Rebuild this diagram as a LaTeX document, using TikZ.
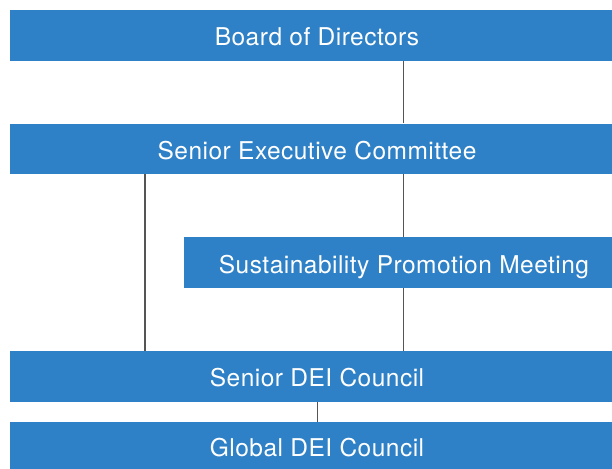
\documentclass[tikz,border=0pt]{standalone}
\usepackage{fontspec}
\setmainfont{TeX Gyre Heros}[LetterSpace=2]
\definecolor{boxblue}{HTML}{2E81C6}
\definecolor{linegray}{HTML}{555555}
\begin{document}
\begin{tikzpicture}[x=1pt,y=1pt,
  orgbox/.style={rectangle, fill=boxblue, draw=none, text=white, inner sep=0pt,
    font=\fontsize{24.5}{28}\selectfont, text height=21pt, text depth=0pt,
    minimum height=51pt},
  link/.style={draw=linegray, line width=1.8pt}]
\useasboundingbox (0,0) rectangle (612,-468);
\clip (0,0) rectangle (612,-468);
\node[orgbox, minimum width=614pt] (board) at (317,-35.5) {Board of Directors};
\node[orgbox, minimum width=614pt, minimum height=50.5pt] (sec) at (317,-148.75) {Senior Executive Committee};
\node[orgbox, minimum width=440pt, minimum height=50.5pt] (spm) at (404,-262.5) {Sustainability Promotion Meeting};
\node[orgbox, minimum width=614pt, minimum height=50.5pt] (sdei) at (317,-376.25) {Senior DEI Council};
\node[orgbox, minimum width=614pt, minimum height=47pt] (gdei) at (317,-445.5) {Global DEI Council};
\coordinate (xa) at (403.5,0);
\coordinate (xb) at (145,0);
\coordinate (xc) at (317.5,0);
\draw[link] (board.south -| xa) -- (sec.north -| xa);
\draw[link] (sec.south -| xa) -- (spm.north -| xa);
\draw[link] (spm.south -| xa) -- (sdei.north -| xa);
\draw[link] (sec.south -| xb) -- (sdei.north -| xb);
\draw[link] (sdei.south -| xc) -- (gdei.north -| xc);
\end{tikzpicture}
\end{document}
